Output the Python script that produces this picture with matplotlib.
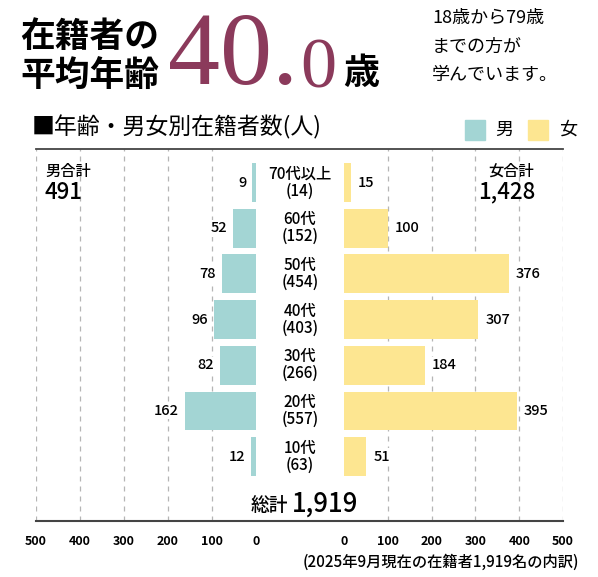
import matplotlib
matplotlib.use('Agg')
import matplotlib.pyplot as plt
from matplotlib.lines import Line2D
from matplotlib.transforms import blended_transform_factory

plt.rcParams['font.family'] = ['Noto Sans CJK JP', 'DejaVu Sans']

# Dados: numero de matriculados por faixa etaria (de cima para baixo)
faixas = ['70代以上', '60代', '50代', '40代', '30代', '20代', '10代']
homens = [9, 52, 78, 96, 82, 162, 12]
mulheres = [15, 100, 376, 307, 184, 395, 51]
totais_faixa = [14, 152, 454, 403, 266, 557, 63]  # como impresso no original
total_h = 491
total_m = 1428
total_geral = 1919
ticks = [500, 400, 300, 200, 100, 0]

COR_H = '#a3d5d4'
COR_M = '#fde691'
COR_TIT = '#8b3a5b'
COR_GRADE = '#b5b5b5'

W, H = 598, 577
fig = plt.figure(figsize=(W / 100, H / 100), dpi=100)


def fx(px):
    return px / W


def fy(py):
    return 1 - py / H


y_top, y_bot = 149, 521
ax_l = fig.add_axes([fx(36), fy(y_bot), fx(256) - fx(36), fy(y_top) - fy(y_bot)])
ax_r = fig.add_axes([fx(344), fy(y_bot), fx(563) - fx(344), fy(y_top) - fy(y_bot)])

n = len(faixas)
pos = list(range(n))
# linha i centrada em 182.5 + 45.7*i px
ylim = ((y_bot - 182.5) / 45.7, (y_top - 182.5) / 45.7)

for ax in (ax_l, ax_r):
    ax.set_ylim(*ylim)
    for s in ax.spines.values():
        s.set_visible(False)
    ax.set_yticks([])
    ax.set_xticks(ticks)
    ax.set_xticklabels([str(t) for t in ticks])
    ax.tick_params(axis='x', length=0, pad=10, labelsize=9)
    for lab in ax.get_xticklabels():
        lab.set_fontweight('bold')

ax_l.set_xlim(500, 0)
ax_r.set_xlim(0, 500)

for t in ticks:
    if t > 0:
        ax_l.axvline(t, color=COR_GRADE, lw=0.9, ls=(0, (4, 4)), zorder=0)
        ax_r.axvline(t, color=COR_GRADE, lw=0.9, ls=(0, (4, 4)), zorder=0)

ax_l.barh(pos, homens, height=0.85, color=COR_H, zorder=2)
ax_r.barh(pos, mulheres, height=0.85, color=COR_M, zorder=2)

caixa = dict(facecolor='white', edgecolor='none', pad=1)
for i, v in enumerate(homens):
    ax_l.annotate(str(v), (v, i), xytext=(-4, 0), textcoords='offset points',
                  ha='right', va='center', fontsize=10.5, fontweight='medium', bbox=caixa, zorder=3)
for i, v in enumerate(mulheres):
    ax_r.annotate(str(v), (v, i), xytext=(5, 0), textcoords='offset points',
                  ha='left', va='center', fontsize=10.5, fontweight='medium', bbox=caixa, zorder=3)

# rotulos centrais
trans = blended_transform_factory(fig.transFigure, ax_l.transData)
for i, f in enumerate(faixas):
    fig.text(fx(300), i, f'{f}\n({totais_faixa[i]})', transform=trans, ha='center', va='center',
             fontsize=11, fontweight='medium', linespacing=1.0)

# linhas superior e inferior
fig.add_artist(Line2D([fx(36), fx(563)], [fy(y_top), fy(y_top)], color='#444444', lw=1.3))
fig.add_artist(Line2D([fx(36), fx(563)], [fy(y_bot), fy(y_bot)], color='#444444', lw=1.5))

# totais
fig.text(fx(45), fy(171), '男合計', fontsize=11, fontweight='medium', va='center', ha='left')
fig.text(fx(44), fy(192), f'{total_h}', fontsize=16, fontweight='medium', va='center', ha='left')
fig.text(fx(534), fy(171), '女合計', fontsize=11, fontweight='medium', va='center', ha='right')
fig.text(fx(535), fy(192), f'{total_m:,}', fontsize=16, fontweight='medium', va='center', ha='right')
fig.text(fx(288), fy(511), '総計', fontsize=13.5, fontweight='medium', va='baseline', ha='right')
fig.text(fx(292), fy(512), f'{total_geral:,}', fontsize=18.5, fontweight='medium',
         va='baseline', ha='left')

# cabecalho
fig.text(fx(20), fy(37), '在籍者の', fontsize=25, fontweight='bold', va='center', ha='left')
fig.text(fx(20), fy(76), '平均年齢', fontsize=25, fontweight='bold', va='center', ha='left')
fig.text(fx(168), fy(84), '40.', fontsize=75, color=COR_TIT, family='Liberation Serif',
         va='baseline', ha='left')
fig.text(fx(300), fy(87), '0', fontsize=52, color=COR_TIT, family='Liberation Serif',
         va='baseline', ha='left')
fig.text(fx(343), fy(84), '歳', fontsize=26, fontweight='bold', va='baseline', ha='left')
fig.text(fx(432), fy(18), '18歳から79歳', fontsize=13, va='center', ha='left')
fig.text(fx(432), fy(47), 'までの方が', fontsize=13, va='center', ha='left')
fig.text(fx(432), fy(75), '学んでいます。', fontsize=13, va='center', ha='left')

fig.text(fx(32), fy(127), '■年齢・男女別在籍者数(人)', fontsize=16.5, va='center', ha='left')

# legenda
fig.patches.append(plt.Rectangle((fx(465), fy(140)), fx(20), 20 / H, color=COR_H,
                                 transform=fig.transFigure, figure=fig))
fig.text(fx(495), fy(130), '男', fontsize=13, va='center', ha='left')
fig.patches.append(plt.Rectangle((fx(528), fy(140)), fx(20), 20 / H, color=COR_M,
                                 transform=fig.transFigure, figure=fig))
fig.text(fx(559), fy(130), '女', fontsize=13, va='center', ha='left')

fig.text(fx(579), fy(562), '(2025年9月現在の在籍者1,919名の内訳)', fontsize=11,
         fontweight='medium', va='center', ha='right')

fig.savefig('out.png', dpi=100, facecolor='white')
